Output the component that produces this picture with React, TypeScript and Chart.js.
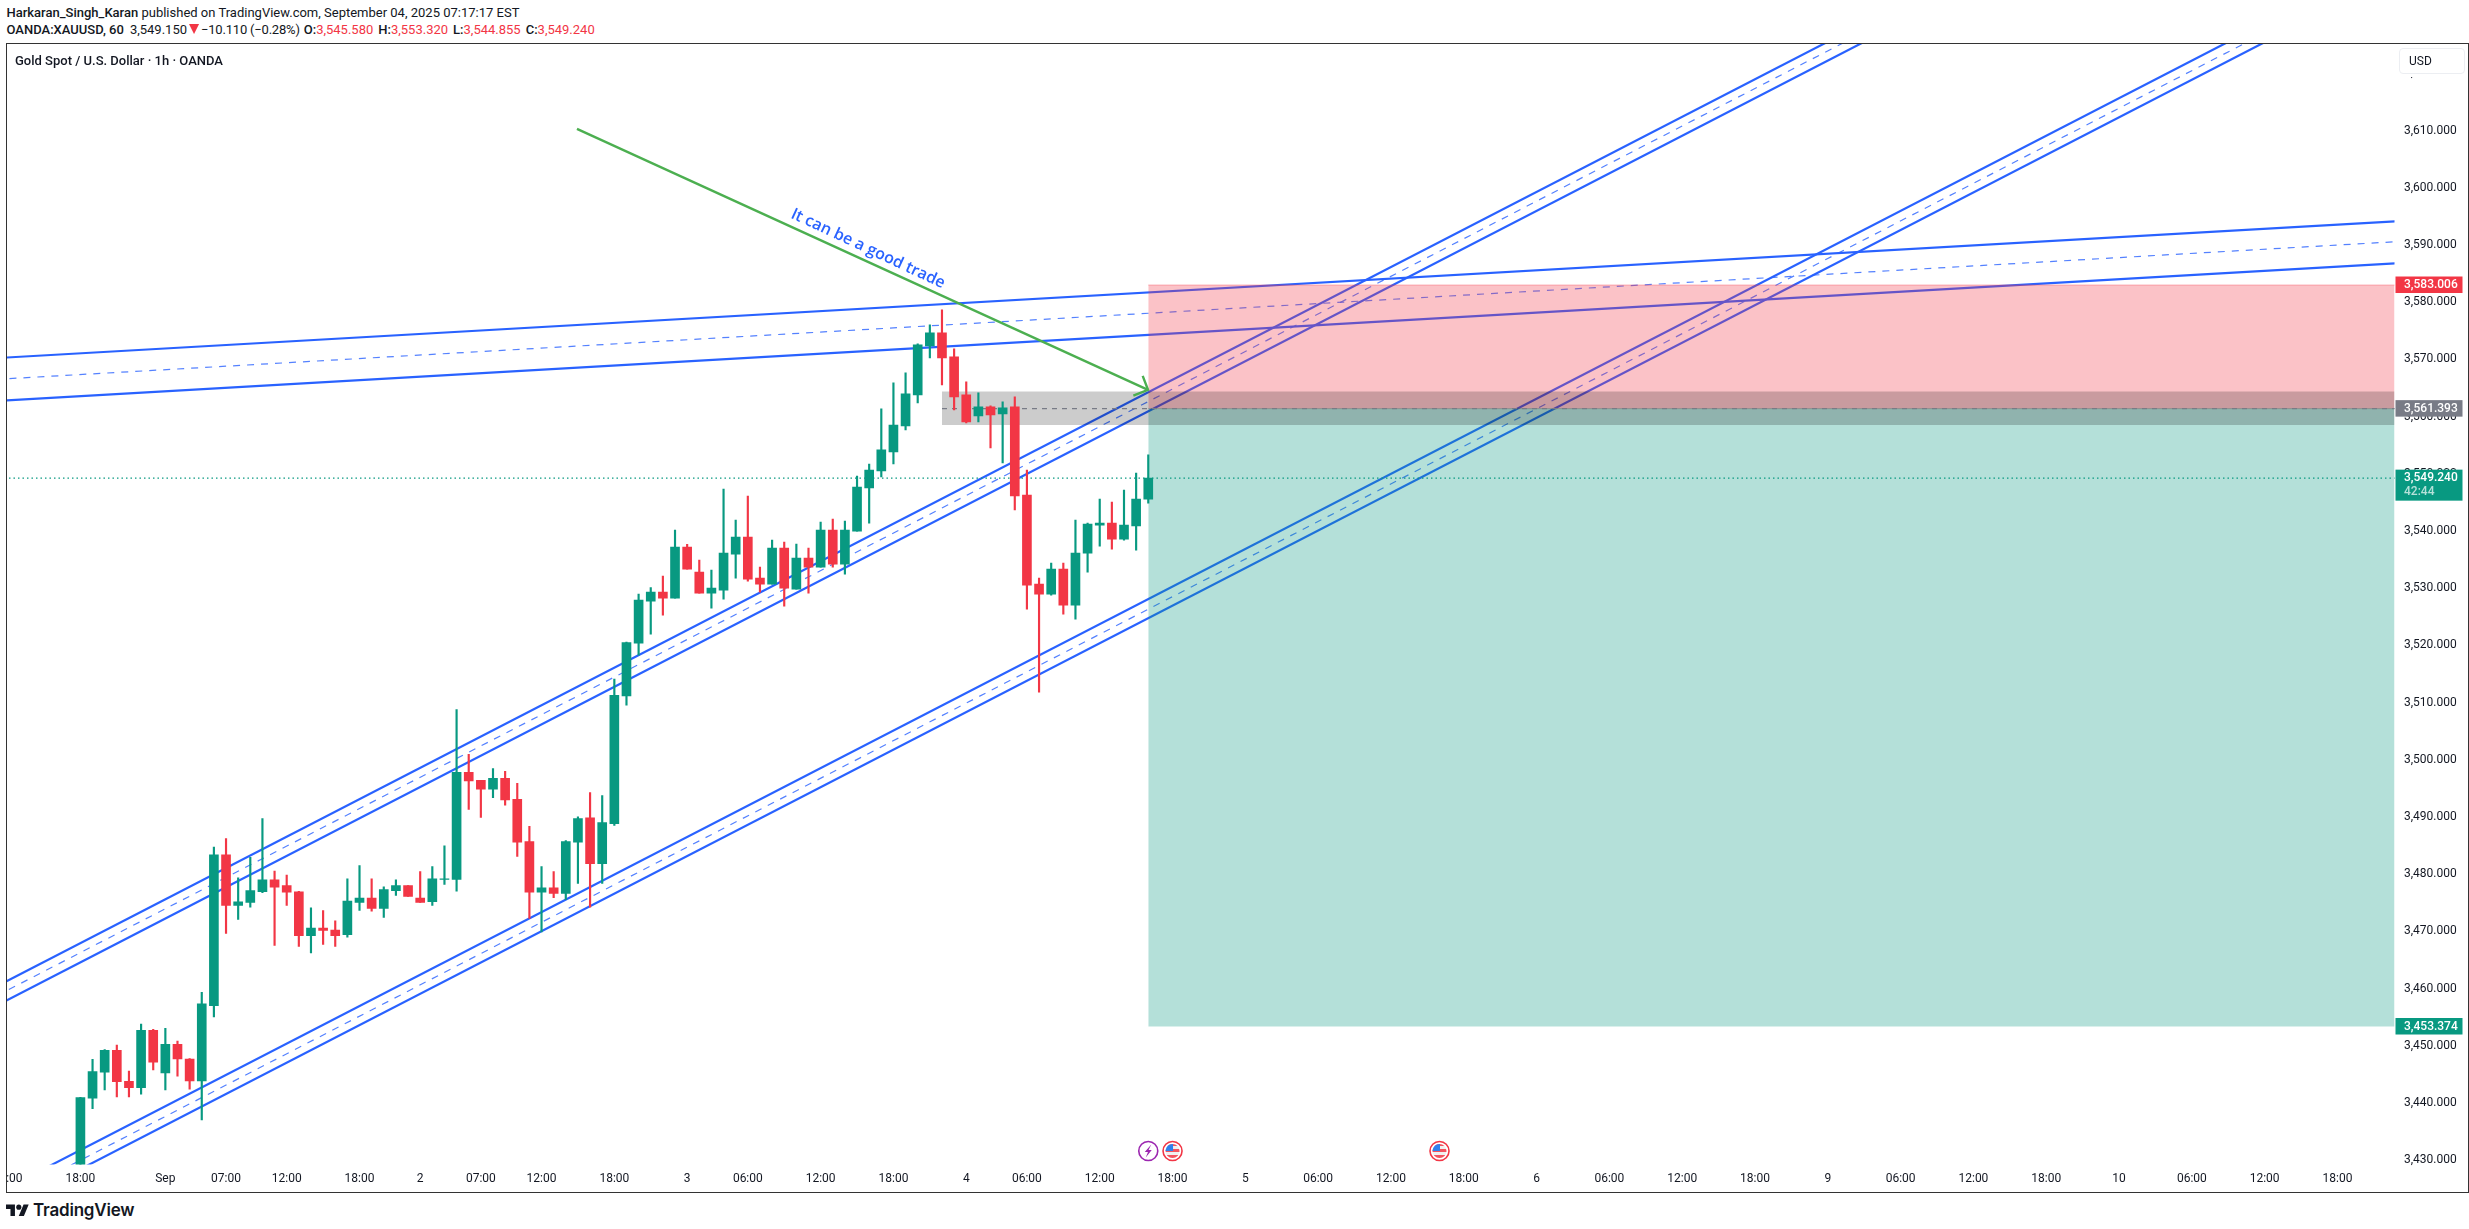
import { useEffect, useRef } from "react";
import { Chart, registerables } from "chart.js";

Chart.register(...registerables);

const GREEN = "#089981";
const RED = "#f23645";
const BLUE = "#2962ff";
const FONT = "Roboto, sans-serif";

// hourly bars, index 0 is the 18:00 bar of Aug 29
const opens = [
  3425.0, 3440.84, 3445.39, 3449.23, 3443.79, 3442.67, 3452.72, 3445.27, 3450.24, 3447.69,
  3443.85, 3457.03, 3483.4, 3474.53, 3475.07, 3476.96, 3479.03, 3478.02, 3476.9, 3469.27,
  3470.57, 3470.22, 3469.45, 3475.07, 3475.84, 3474.0, 3477.13, 3478.02, 3475.84, 3475.18,
  3479.09, 3479.09, 3497.83, 3496.41, 3494.87, 3496.76, 3493.1, 3485.71, 3476.84, 3477.61,
  3476.66, 3485.59, 3489.85, 3481.86, 3488.84, 3511.17, 3520.39, 3527.74, 3529.31, 3528.26,
  3537.19, 3532.81, 3529.14, 3529.66, 3535.96, 3538.94, 3531.76, 3530.71, 3537.01, 3529.84,
  3535.26, 3533.69, 3540.17, 3534.21, 3539.99, 3547.52, 3550.49, 3553.82, 3558.37, 3563.79,
  3572.37, 3574.64, 3570.44, 3563.79, 3560.12, 3561.69, 3560.47, 3561.69, 3546.29, 3530.71,
  3528.96, 3533.34, 3527.04, 3536.14, 3541.04, 3541.39, 3538.59, 3540.87, 3545.58,
];
const highs = [
  3441.0, 3447.63, 3449.35, 3450.12, 3445.57, 3453.78, 3452.9, 3453.07, 3450.83, 3447.75,
  3459.34, 3484.76, 3486.24, 3479.38, 3482.93, 3489.73, 3480.56, 3479.86, 3477.02, 3474.12,
  3473.65, 3471.87, 3479.2, 3481.51, 3479.2, 3477.79, 3479.03, 3478.02, 3480.45, 3481.33,
  3484.98, 3508.76, 3500.96, 3496.41, 3498.48, 3498.0, 3495.88, 3488.37, 3481.33, 3480.45,
  3485.89, 3490.02, 3494.28, 3493.75, 3514.1, 3520.6, 3528.96, 3530.13, 3532.11, 3540.17,
  3537.66, 3534.91, 3533.16, 3547.34, 3541.92, 3546.12, 3533.69, 3538.41, 3538.06, 3537.71,
  3537.01, 3541.56, 3542.09, 3541.74, 3549.62, 3551.72, 3561.34, 3565.89, 3567.64, 3572.72,
  3576.04, 3578.67, 3571.84, 3566.07, 3564.14, 3561.87, 3562.57, 3563.44, 3550.67, 3531.76,
  3534.39, 3534.39, 3541.92, 3541.39, 3545.59, 3545.07, 3547.17, 3550.14, 3553.32,
];
const lows = [
  3424.0, 3439.0, 3442.31, 3441.07, 3441.07, 3441.55, 3445.8, 3442.31, 3444.68, 3442.43,
  3437.05, 3455.03, 3469.63, 3472.11, 3474.24, 3476.78, 3467.56, 3474.53, 3467.38, 3466.26,
  3467.74, 3467.38, 3468.98, 3473.65, 3473.53, 3472.46, 3476.31, 3476.13, 3475.07, 3474.53,
  3478.2, 3477.02, 3491.32, 3489.91, 3493.39, 3492.09, 3483.11, 3472.29, 3469.92, 3475.89,
  3475.54, 3478.38, 3474.24, 3478.38, 3488.55, 3509.53, 3518.29, 3521.96, 3525.29, 3528.26,
  3533.34, 3529.14, 3526.51, 3528.09, 3531.76, 3531.24, 3529.31, 3530.71, 3526.86, 3529.84,
  3529.14, 3533.69, 3533.69, 3532.46, 3539.99, 3541.39, 3549.44, 3551.72, 3557.67, 3562.39,
  3570.27, 3565.54, 3561.17, 3558.89, 3559.07, 3554.52, 3551.89, 3543.67, 3526.34, 3511.81,
  3528.79, 3525.46, 3524.59, 3532.81, 3537.36, 3536.84, 3538.41, 3536.66, 3544.855,
];
const closes = [
  3440.95, 3445.51, 3449.23, 3443.73, 3442.67, 3452.72, 3447.16, 3450.24, 3447.69, 3443.85,
  3457.33, 3483.4, 3474.53, 3475.18, 3477.13, 3479.03, 3477.73, 3476.84, 3469.27, 3470.57,
  3470.16, 3469.27, 3475.3, 3475.84, 3474.0, 3477.31, 3478.02, 3476.13, 3475.07, 3479.2,
  3479.2, 3497.83, 3496.29, 3494.87, 3496.76, 3492.98, 3485.59, 3476.84, 3477.61, 3476.66,
  3485.71, 3489.73, 3481.86, 3489.02, 3511.29, 3520.5, 3527.91, 3529.31, 3528.26, 3537.19,
  3533.34, 3529.14, 3530.01, 3536.14, 3538.94, 3531.59, 3530.71, 3537.01, 3530.01, 3535.26,
  3533.69, 3540.17, 3534.21, 3540.17, 3547.69, 3550.67, 3554.17, 3558.54, 3563.97, 3572.54,
  3574.64, 3570.27, 3563.44, 3559.07, 3561.69, 3560.29, 3561.52, 3546.12, 3530.54, 3528.96,
  3533.34, 3527.04, 3536.14, 3541.22, 3541.39, 3538.59, 3541.04, 3545.59, 3549.24,
];

// time axis
const timeTicks = [
  -6, 0, 7, 12, 17, 23, 28, 33, 38, 44, 50, 55, 61, 67, 73, 78, 84, 90, 96, 102, 108, 114, 120,
  126, 132, 138, 144, 150, 156, 162, 168, 174, 180, 186,
];
const timeLabels = [
  "12:00", "18:00", "Sep", "07:00", "12:00", "18:00", "2", "07:00", "12:00", "18:00", "3", "06:00",
  "12:00", "18:00", "4", "06:00", "12:00", "18:00", "5", "06:00", "12:00", "18:00", "6", "06:00",
  "12:00", "18:00", "9", "06:00", "12:00", "18:00", "10", "06:00", "12:00", "18:00",
];

// drawn trend channels, [bar, price]
const steepUpperA = [[-10, 3457.0], [170, 3654.0]];
const steepMidA = [[-10, 3455.35], [170, 3652.4]];
const steepLowerA = [[-10, 3453.65], [170, 3650.7]];
const steepUpperB = [[-10, 3420.83], [190, 3639.75]];
const steepMidB = [[-10, 3419.05], [190, 3638.0]];
const steepLowerB = [[-10, 3417.5], [190, 3636.4]];
const flatUpper = [[-7, 3570.22], [191, 3594.15]];
const flatMid = [[-7, 3566.5], [191, 3590.6]];
const flatLower = [[-7, 3562.73], [191, 3586.82]];

const arrowShaft = [[40.92, 3610.3], [87.98, 3564.67]];
const arrowHead = [[87.54, 3567.12], [87.98, 3564.67], [86.77, 3563.68]];

// short position tool
const positionStart = 88;
const stopPrice = 3583.006;
const entryPrice = 3561.393;
const targetPrice = 3453.374;
const lastPrice = 3549.24;
const axisEnd = 200;

// grey zone around the entry
const zoneStart = 71;
const zoneTop = 3564.4;
const zoneBottom = 3558.55;

const noteText = "It can be a good trade";
const noteBar = 64.9;
const notePrice = 3589.35;

const lightningBars = [88];
const flagBars = [90, 112];

const toPoints = (pairs: number[][]) => pairs.map(([x, y]) => ({ x, y }));
const money = (v: number) =>
  v.toLocaleString("en-US", { minimumFractionDigits: 3, maximumFractionDigits: 3 });

function lineSet(pairs: number[][], order: number, dashed = false) {
  return {
    type: "line" as const,
    data: toPoints(pairs),
    borderColor: dashed ? "rgba(41,98,255,0.8)" : BLUE,
    borderWidth: dashed ? 1.2 : 2.2,
    borderDash: dashed ? [7, 7] : [],
    pointRadius: 0,
    order,
  };
}

function boxSet(top: number, bottom: number, start: number, color: string, edge: string, order: number) {
  return {
    type: "line" as const,
    data: [{ x: start, y: top }, { x: axisEnd, y: top }],
    borderColor: edge,
    borderWidth: 1,
    pointRadius: 0,
    backgroundColor: color,
    fill: { value: bottom },
    order,
  };
}

const noPadding = (s: any) => {
  s.paddingLeft = 0;
  s.paddingRight = 0;
  s.paddingTop = 0;
  s.paddingBottom = 0;
};

const overlay = {
  id: "overlay",
  afterDraw(chart: any) {
    const { ctx, chartArea, scales } = chart;
    const xs = scales.x;
    const ys = scales.y;

    // rotated note next to the arrow
    ctx.save();
    ctx.translate(xs.getPixelForValue(noteBar), ys.getPixelForValue(notePrice));
    ctx.rotate((25 * Math.PI) / 180);
    ctx.font = `600 16px "Open Sans", sans-serif`;
    ctx.fillStyle = BLUE;
    ctx.textAlign = "center";
    ctx.textBaseline = "middle";
    ctx.fillText(noteText, 0, 0);
    ctx.restore();

    // price tags on the axis
    const tag = (value: number, color: string, sub?: string) => {
      const y = ys.getPixelForValue(value);
      const left = chartArea.right + 1;
      const h = sub ? 31 : 16.5;
      const top = y - 8.5;
      ctx.fillStyle = color;
      ctx.fillRect(left, top, 67, h);
      ctx.font = `500 12px ${FONT}`;
      ctx.textAlign = "left";
      ctx.textBaseline = "middle";
      ctx.fillStyle = "#ffffff";
      ctx.fillText(money(value), left + 8.5, y);
      if (sub) {
        ctx.fillStyle = "rgba(255,255,255,0.7)";
        ctx.fillText(sub, left + 8.5, y + 14);
      }
    };
    tag(stopPrice, RED);
    tag(entryPrice, "#787b86");
    tag(lastPrice, GREEN, "42:44");
    tag(targetPrice, GREEN);

    // economic event markers
    const iconY = chartArea.bottom - 13.5;
    lightningBars.forEach((bar) => {
      const cx = xs.getPixelForValue(bar);
      ctx.beginPath();
      ctx.arc(cx, iconY, 9.5, 0, Math.PI * 2);
      ctx.fillStyle = "#fff";
      ctx.fill();
      ctx.strokeStyle = "#9c27b0";
      ctx.lineWidth = 1.6;
      ctx.stroke();
      ctx.fillStyle = "#9c27b0";
      ctx.beginPath();
      ctx.moveTo(cx + 3, iconY - 6.5);
      ctx.lineTo(cx - 3.5, iconY + 1);
      ctx.lineTo(cx - 0.3, iconY + 1);
      ctx.lineTo(cx - 2.5, iconY + 6.5);
      ctx.lineTo(cx + 3.5, iconY - 1);
      ctx.lineTo(cx + 0.3, iconY - 1);
      ctx.closePath();
      ctx.fill();
    });
    flagBars.forEach((bar) => {
      const cx = xs.getPixelForValue(bar);
      ctx.beginPath();
      ctx.arc(cx, iconY, 9.5, 0, Math.PI * 2);
      ctx.fillStyle = "#fff";
      ctx.fill();
      ctx.strokeStyle = RED;
      ctx.lineWidth = 1.6;
      ctx.stroke();
      ctx.save();
      ctx.beginPath();
      ctx.arc(cx, iconY, 7, 0, Math.PI * 2);
      ctx.clip();
      ctx.fillStyle = "#f0f0f0";
      ctx.fillRect(cx - 8, iconY - 8, 16, 16);
      ctx.fillStyle = "#f4535f";
      ctx.fillRect(cx - 8, iconY - 2, 16, 3);
      ctx.fillRect(cx - 8, iconY + 4, 16, 4);
      ctx.fillRect(cx - 8, iconY - 8, 16, 3);
      ctx.fillStyle = "#2f80ed";
      ctx.fillRect(cx - 8, iconY - 8, 8.5, 8);
      ctx.restore();
    });
  },
};

export default function App() {
  const chartRef = useRef<HTMLCanvasElement>(null);

  useEffect(() => {
    if (!chartRef.current) return;

    const chart = new Chart(chartRef.current, {
      type: "bar",
      plugins: [overlay],
      data: {
        datasets: [
          lineSet(steepUpperA, 60),
          lineSet(steepMidA, 60, true),
          lineSet(steepLowerA, 60),
          lineSet(steepUpperB, 60),
          lineSet(steepMidB, 60, true),
          lineSet(steepLowerB, 60),
          lineSet(flatUpper, 60),
          lineSet(flatMid, 60, true),
          lineSet(flatLower, 60),
          boxSet(stopPrice, entryPrice, positionStart, "rgba(242,54,69,0.3)", "rgba(242,54,69,0.35)", 50),
          boxSet(entryPrice, targetPrice, positionStart, "rgba(8,153,129,0.3)", "rgba(8,153,129,0.35)", 50),
          boxSet(zoneTop, zoneBottom, zoneStart, "rgba(0,0,0,0.2)", "rgba(0,0,0,0)", 40),
          {
            type: "line" as const,
            data: [{ x: zoneStart, y: entryPrice }, { x: axisEnd, y: entryPrice }],
            borderColor: "#787b86",
            borderWidth: 1.2,
            borderDash: [5, 5],
            pointRadius: 0,
            order: 35,
          },
          {
            type: "line" as const,
            data: [{ x: -7, y: lastPrice }, { x: axisEnd, y: lastPrice }],
            borderColor: GREEN,
            borderWidth: 1.2,
            borderDash: [1.5, 3],
            pointRadius: 0,
            order: 30,
          },
          {
            type: "bar" as const,
            data: opens.map((_, i) => ({ x: i, y: [lows[i], highs[i]] })),
            backgroundColor: opens.map((o, i) => (closes[i] >= o ? GREEN : RED)),
            barThickness: 1.5,
            grouped: false,
            order: 20,
          },
          {
            type: "bar" as const,
            data: opens.map((o, i) => ({ x: i, y: [o, closes[i]] })),
            backgroundColor: opens.map((o, i) => (closes[i] >= o ? GREEN : RED)),
            barThickness: 9,
            grouped: false,
            order: 10,
          },
          {
            type: "line" as const,
            data: toPoints(arrowShaft),
            borderColor: "#4caf50",
            borderWidth: 2.4,
            pointRadius: 0,
            order: 5,
          },
          {
            type: "line" as const,
            data: toPoints(arrowHead),
            borderColor: "#4caf50",
            borderWidth: 2.4,
            pointRadius: 0,
            order: 5,
          },
        ] as any,
      },
      options: {
        responsive: false,
        animation: false,
        devicePixelRatio: 1,
        events: [],
        layout: { padding: 0, autoPadding: false },
        plugins: { legend: { display: false }, tooltip: { enabled: false } },
        scales: {
          x: {
            type: "linear",
            offset: false,
            min: -6.05,
            max: 190.7,
            grid: { display: false, drawTicks: false, offset: false },
            border: { display: false },
            afterFit: (s: any) => {
              s.height = 27.5;
              noPadding(s);
            },
            afterBuildTicks: (s: any) => {
              s.ticks = timeTicks.map((value) => ({ value }));
            },
            ticks: {
              autoSkip: false,
              maxRotation: 0,
              padding: 7,
              color: "#131722",
              font: { family: FONT, size: 12 },
              callback: (v: any) => timeLabels[timeTicks.indexOf(Number(v))],
            },
          },
          y: {
            type: "linear",
            position: "right",
            min: 3429.25,
            max: 3625.14,
            grid: { display: false, drawTicks: false },
            border: { display: false },
            afterFit: (s: any) => {
              s.width = 73.5;
              noPadding(s);
            },
            ticks: {
              stepSize: 10,
              includeBounds: false,
              padding: 9.5,
              color: "#131722",
              font: { family: FONT, size: 12 },
              callback: (v: any) => money(Number(v)),
            },
          },
        },
      },
    });

    return () => chart.destroy();
  }, []);

  const val = { color: "#f23645" };

  return (
    <div
      style={{
        position: "fixed",
        inset: 0,
        width: 2469,
        height: 1229,
        background: "#fff",
        overflow: "hidden",
        fontFamily: FONT,
        fontSize: 13,
        color: "#131722",
      }}
    >
      {/* Publish line */}
      <div style={{ position: "absolute", left: 6.5, top: 5, whiteSpace: "nowrap" }}>
        <b style={{ fontWeight: 500 }}>Harkaran_Singh_Karan</b> published on TradingView.com, September 04, 2025 07:17:17 EST
      </div>

      {/* Symbol line */}
      <div style={{ position: "absolute", left: 6.5, top: 22, whiteSpace: "nowrap" }}>
        <b style={{ fontWeight: 500 }}>OANDA:XAUUSD, 60</b>
        <span style={{ marginLeft: 6 }}>3,549.150</span>
        <span
          style={{
            display: "inline-block",
            width: 10,
            height: 10,
            margin: "0 2px",
            background: "#f23645",
            clipPath: "polygon(0 0, 100% 0, 50% 100%)",
          }}
        />
        <span style={{ letterSpacing: -0.2 }}>−10.110 (−0.28%)</span>
        <b style={{ fontWeight: 500, marginLeft: 4 }}>O:</b><span style={val}>3,545.580</span>
        <b style={{ fontWeight: 500, marginLeft: 5 }}>H:</b><span style={val}>3,553.320</span>
        <b style={{ fontWeight: 500, marginLeft: 5 }}>L:</b><span style={val}>3,544.855</span>
        <b style={{ fontWeight: 500, marginLeft: 5 }}>C:</b><span style={val}>3,549.240</span>
      </div>

      {/* Chart frame */}
      <div
        style={{
          position: "absolute",
          left: 6,
          top: 43,
          width: 2463,
          height: 1150,
          boxSizing: "border-box",
          border: "1px solid #333",
          overflow: "hidden",
        }}
      >
        <canvas ref={chartRef} width={2461} height={1148} style={{ display: "block" }} />
        <div style={{ position: "absolute", left: 8, top: 9, fontWeight: 500, whiteSpace: "nowrap" }}>
          Gold Spot / U.S. Dollar · 1h · OANDA
        </div>
        <div
          style={{
            position: "absolute",
            left: 2392,
            top: 4,
            width: 66,
            height: 26,
            boxSizing: "border-box",
            border: "1px solid #eceef2",
            borderRadius: 4,
            background: "#fff",
            boxShadow: "0 3px 0 #fff",
            fontSize: 12,
            lineHeight: "24px",
            paddingLeft: 9,
          }}
        >
          USD
        </div>
      </div>

      {/* TradingView mark */}
      <svg viewBox="0 0 36 28" width={23} height={18} style={{ position: "absolute", left: 6, top: 1202 }}>
        <path d="M14 22H7V11H0V4h14v18zM28 22h-8l7.5-18h8L28 22z" fill="#131722" />
        <circle cx="20" cy="8" r="4" fill="#131722" />
      </svg>
      <div
        style={{
          position: "absolute",
          left: 33,
          top: 1200,
          fontSize: 17,
          fontWeight: 600,
          fontFamily: "Inter, sans-serif",
          letterSpacing: -0.2,
          whiteSpace: "nowrap",
        }}
      >
        TradingView
      </div>
    </div>
  );
}
